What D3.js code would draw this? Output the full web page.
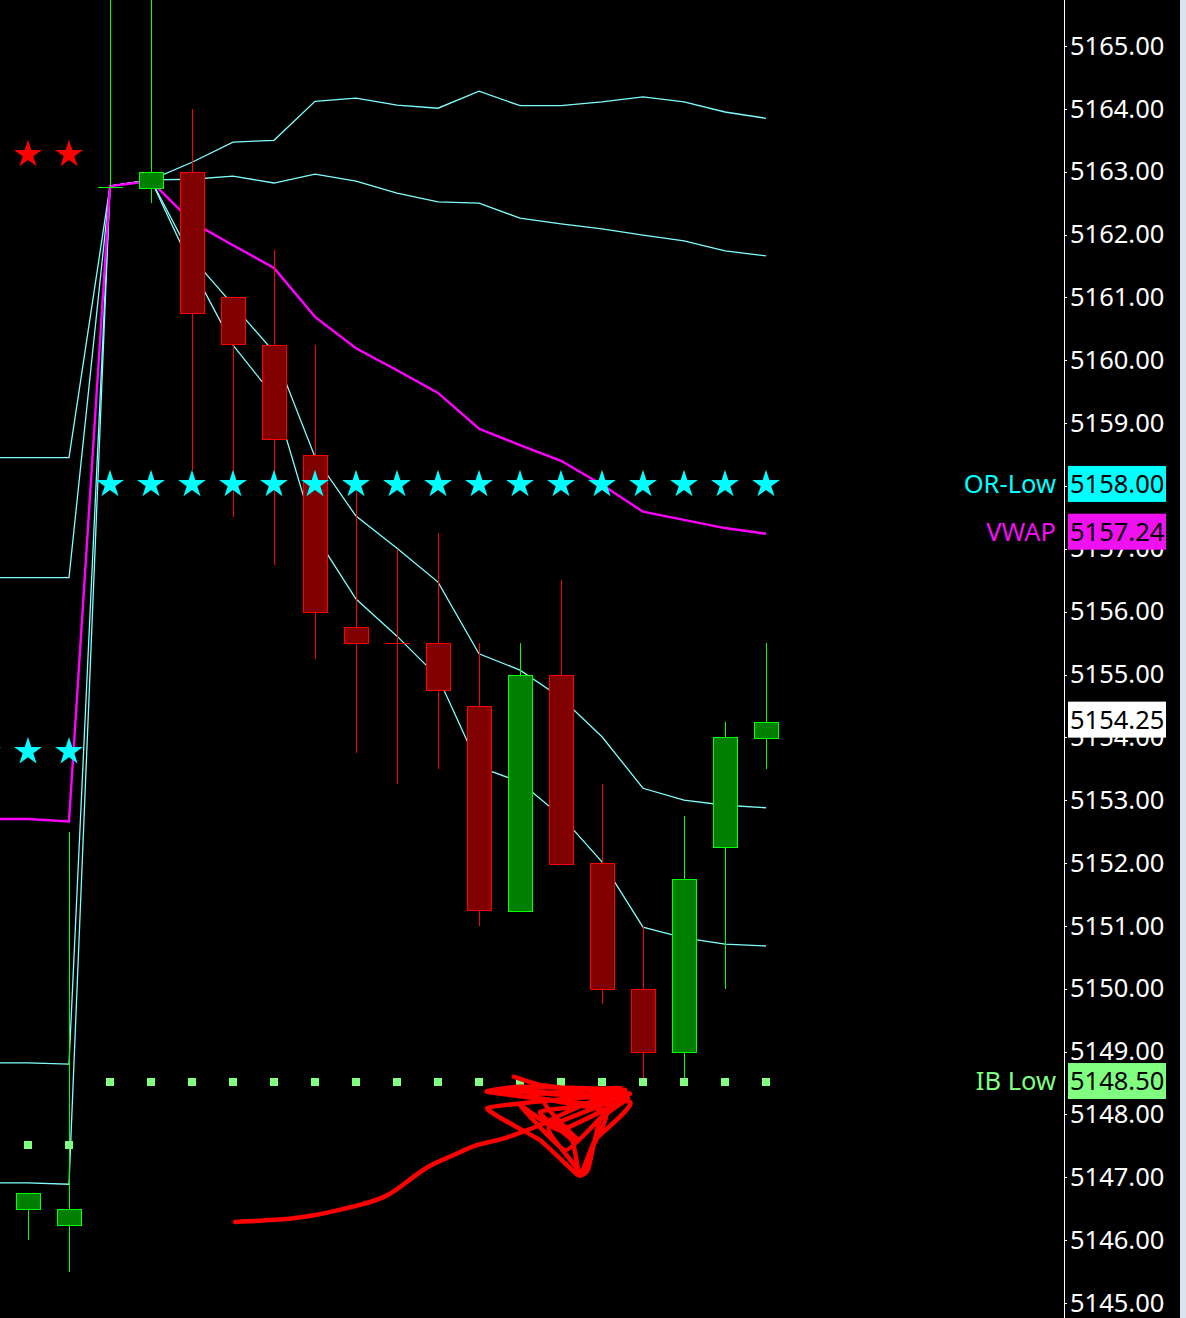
<!DOCTYPE html>
<html>
<head>
<meta charset="utf-8">
<script src="https://d3js.org/d3.v7.min.js"></script>
<style>
  html, body { margin: 0; padding: 0; background: #000; overflow: hidden; }
  text { font-family: "Noto Sans", "Open Sans", sans-serif; }
</style>
</head>
<body>
<div id="chart"></div>
<script>
// candles, bar 0 .. 18 (bars 0-1 are the prior session)
var opens  = [5146.50, 5146.25, 5162.75, 5162.75, 5163.00, 5161.00, 5160.25, 5158.50, 5155.75, 5155.50,
              5155.50, 5154.50, 5151.25, 5155.00, 5152.00, 5150.00, 5149.00, 5152.25, 5154.00];
var highs  = [5146.75, 5152.50, 5166.50, 5166.50, 5164.00, 5161.00, 5161.75, 5160.25, 5158.00, 5157.00,
              5157.25, 5155.50, 5155.50, 5156.50, 5153.25, 5151.00, 5152.75, 5154.25, 5155.50];
var lows   = [5146.00, 5145.50, 5162.75, 5162.50, 5158.25, 5157.50, 5156.75, 5155.25, 5153.75, 5153.25,
              5153.50, 5151.00, 5151.25, 5152.00, 5149.75, 5148.50, 5148.50, 5150.00, 5153.50];
var closes = [5146.75, 5146.50, 5162.75, 5163.00, 5160.75, 5160.25, 5158.75, 5156.00, 5155.50, 5155.50,
              5154.75, 5151.25, 5155.00, 5152.00, 5150.00, 5149.00, 5151.75, 5154.00, 5154.25];

// indicator lines, bar -1 .. 18
var lineBars = d3.range(-1, 19);
var upper1 = [5158.45, 5158.45, 5158.45, 5162.77, 5162.87, 5163.15, 5163.47, 5163.50, 5164.12, 5164.17,
              5164.06, 5164.01, 5164.28, 5164.05, 5164.05, 5164.11, 5164.19, 5164.11, 5163.95, 5163.85];
var upper2 = [5156.54, 5156.54, 5156.54, 5162.77, 5162.87, 5162.88, 5162.93, 5162.82, 5162.96, 5162.85,
              5162.66, 5162.52, 5162.50, 5162.26, 5162.17, 5162.09, 5161.99, 5161.90, 5161.74, 5161.66];
var vwap   = [5152.70, 5152.70, 5152.66, 5162.77, 5162.85, 5162.20, 5161.83, 5161.47, 5160.69, 5160.19,
              5159.84, 5159.48, 5158.91, 5158.65, 5158.40, 5158.02, 5157.59, 5157.46, 5157.33, 5157.24];
var lower1 = [5148.82, 5148.82, 5148.80, 5162.77, 5162.87, 5161.63, 5160.88, 5160.13, 5158.46, 5157.52,
              5157.01, 5156.47, 5155.33, 5155.07, 5154.63, 5154.01, 5153.19, 5153.00, 5152.92, 5152.88];
var lower2 = [5146.91, 5146.91, 5146.89, 5162.77, 5162.87, 5161.47, 5160.24, 5159.42, 5157.22, 5156.20,
              5155.61, 5154.96, 5153.53, 5153.29, 5152.75, 5152.02, 5150.98, 5150.81, 5150.71, 5150.68];

// markers: opening range stars and initial balance dots, bar -1 .. 18
var orHigh = [5163.25, 5163.25, 5163.25, null, null, null, null, null, null, null,
              null, null, null, null, null, null, null, null, null, null];
var orLow  = [5153.75, 5153.75, 5153.75, 5158.00, 5158.00, 5158.00, 5158.00, 5158.00, 5158.00, 5158.00,
              5158.00, 5158.00, 5158.00, 5158.00, 5158.00, 5158.00, 5158.00, 5158.00, 5158.00, 5158.00];
var ibLow  = [5147.50, 5147.50, 5147.50, 5148.50, 5148.50, 5148.50, 5148.50, 5148.50, 5148.50, 5148.50,
              5148.50, 5148.50, 5148.50, 5148.50, 5148.50, 5148.50, 5148.50, 5148.50, 5148.50, 5148.50];

// price axis
var priceTicks = d3.range(5145, 5166, 1);
var tagNames  = ["OR-Low", "VWAP", "IB Low", ""];
var tagValues = [5158.00, 5157.24, 5148.50, 5154.25];
var tagColors = ["#00ffff", "#f011f0", "#80ff80", "#ffffff"];

// hand drawn note, [bar, price]
var noteTail = [[5.05, 5146.29], [6.07, 5146.32], [6.80, 5146.37], [7.46, 5146.46], [8.12, 5146.56],
                [8.78, 5146.69], [9.24, 5146.93], [9.80, 5147.20], [10.27, 5147.32], [10.63, 5147.43],
                [10.98, 5147.53], [11.51, 5147.59], [12.02, 5147.71], [12.49, 5147.83], [12.85, 5147.94]];
var noteScribble = [[11.85, 5148.60], [12.49, 5148.47], [13.95, 5148.36], [14.68, 5148.33], [13.71, 5148.17],
                    [11.20, 5148.36], [12.00, 5148.44], [14.56, 5148.39], [13.34, 5148.26], [11.20, 5148.10],
                    [12.49, 5147.59], [13.41, 5147.04], [13.66, 5147.12], [13.95, 5147.91], [14.63, 5148.26],
                    [12.98, 5147.75], [12.00, 5148.15], [13.10, 5147.43], [13.95, 5147.94], [14.24, 5148.17],
                    [12.49, 5148.04], [13.27, 5147.59], [13.46, 5147.02], [13.83, 5147.59], [14.68, 5148.20],
                    [11.51, 5148.39], [14.32, 5148.26], [12.70, 5147.80], [13.20, 5147.30], [13.55, 5147.05],
                    [13.75, 5147.45], [14.10, 5148.05], [12.20, 5148.30], [14.45, 5148.42], [12.85, 5147.94],
                    [13.40, 5147.60], [12.60, 5148.20], [14.60, 5148.30]];

var width = 1186, height = 1318, axisX = 1064;

var svg = d3.select("#chart")
  .append("svg")
    .attr("width", width)
    .attr("height", height)
    .style("display", "block");

svg.append("rect")
  .attr("width", width).attr("height", height)
  .attr("fill", "#000");

var x = d3.scaleLinear().domain([0, 18]).range([28, 766]);
var y = d3.scaleLinear().domain([5145, 5165]).range([1303, 46]);

svg.append("clipPath").attr("id", "plot")
  .append("rect").attr("width", axisX).attr("height", height);

var plot = svg.append("g").attr("clip-path", "url(#plot)");

// bands and vwap
var line = d3.line()
  .defined(function(d) { return d[1] != null; })
  .x(function(d) { return x(d[0]); })
  .y(function(d) { return y(d[1]); });

[upper1, upper2, lower1, lower2].forEach(function(s) {
  plot.append("path")
    .datum(lineBars.map(function(b, i) { return [b, s[i]]; }))
    .attr("d", line)
    .attr("fill", "none")
    .attr("stroke", "#80ffff")
    .attr("stroke-width", 1.3);
});
plot.append("path")
  .datum(lineBars.map(function(b, i) { return [b, vwap[i]]; }))
  .attr("d", line)
  .attr("fill", "none")
  .attr("stroke", "#ff00ff")
  .attr("stroke-width", 2.4);

// candles
var candles = opens.map(function(o, i) {
  var up = closes[i] > o || (closes[i] === o && i > 0 && closes[i] > closes[i - 1]);
  return {i: i, o: o, h: highs[i], l: lows[i], c: closes[i], up: up};
});

var cg = plot.append("g").attr("shape-rendering", "crispEdges");

cg.selectAll("line.wick")
  .data(candles)
  .enter()
  .append("line")
    .attr("x1", function(d) { return Math.round(x(d.i)) + 0.5; })
    .attr("x2", function(d) { return Math.round(x(d.i)) + 0.5; })
    .attr("y1", function(d) { return y(d.h); })
    .attr("y2", function(d) { return y(d.l); })
    .attr("stroke", function(d) { return d.up ? "#00ff00" : "#ff0000"; });

cg.selectAll("rect.body")
  .data(candles.filter(function(d) { return d.o !== d.c; }))
  .enter()
  .append("rect")
    .attr("x", function(d) { return Math.round(x(d.i)) - 12 + 0.5; })
    .attr("y", function(d) { return Math.round(y(Math.max(d.o, d.c))) + 0.5; })
    .attr("width", 24)
    .attr("height", function(d) { return Math.round(Math.abs(y(d.o) - y(d.c))); })
    .attr("fill", function(d) { return d.up ? "#008000" : "#800000"; })
    .attr("stroke", function(d) { return d.up ? "#00ff00" : "#ff0000"; })
    .attr("stroke-width", 1.3);

cg.selectAll("line.doji")
  .data(candles.filter(function(d) { return d.o === d.c; }))
  .enter()
  .append("line")
    .attr("x1", function(d) { return x(d.i) - 12; })
    .attr("x2", function(d) { return x(d.i) + 13; })
    .attr("y1", function(d) { return Math.round(y(d.o)) + 0.5; })
    .attr("y2", function(d) { return Math.round(y(d.o)) + 0.5; })
    .attr("stroke", function(d) { return d.up ? "#00ff00" : "#ff0000"; });

// opening range stars
var star = d3.symbol().type(d3.symbolStar).size(240);
function stars(values, color) {
  plot.append("g").selectAll("path")
    .data(lineBars.map(function(b, i) { return [b, values[i]]; }).filter(function(d) { return d[1] != null; }))
    .enter()
    .append("path")
      .attr("d", star)
      .attr("transform", function(d) { return "translate(" + x(d[0]) + "," + (y(d[1]) - 1.5) + ")"; })
      .attr("fill", color);
}
stars(orHigh, "#ff0000");
stars(orLow, "#00ffff");

// initial balance dots
plot.append("g").attr("shape-rendering", "crispEdges").selectAll("rect")
  .data(lineBars.map(function(b, i) { return [b, ibLow[i]]; }))
  .enter()
  .append("rect")
    .attr("x", function(d) { return Math.round(x(d[0])) - 4; })
    .attr("y", function(d) { return Math.round(y(d[1])) - 5; })
    .attr("width", 8)
    .attr("height", 8)
    .attr("fill", "#80ff80");

// hand drawn note
plot.append("path")
  .datum(noteTail)
  .attr("d", d3.line().curve(d3.curveBasis).x(function(d) { return x(d[0]); }).y(function(d) { return y(d[1]); }))
  .attr("fill", "none")
  .attr("stroke", "#ff0000")
  .attr("stroke-width", 4.5)
  .attr("stroke-linecap", "round");
plot.append("path")
  .datum(noteScribble)
  .attr("d", d3.line().curve(d3.curveCardinal.tension(0.6)).x(function(d) { return x(d[0]); }).y(function(d) { return y(d[1]); }))
  .attr("fill", "none")
  .attr("stroke", "#ff0000")
  .attr("stroke-width", 4.5)
  .attr("stroke-linecap", "round")
  .attr("stroke-linejoin", "round");

// price axis
var axis = svg.append("g")
  .attr("transform", "translate(" + axisX + ",0)")
  .call(d3.axisRight(y)
    .tickValues(priceTicks)
    .tickSize(3)
    .tickPadding(3)
    .tickFormat(d3.format(".2f")));
axis.select(".domain").remove();
axis.selectAll(".tick line").attr("stroke", "#fff").attr("shape-rendering", "crispEdges");
axis.selectAll(".tick text")
  .attr("fill", "#fff")
  .attr("font-size", 25.5)
  .attr("font-family", "'Noto Sans', 'Open Sans', sans-serif");

svg.append("line")
  .attr("x1", axisX + 0.5).attr("x2", axisX + 0.5)
  .attr("y1", 0).attr("y2", height)
  .attr("stroke", "#fff")
  .attr("shape-rendering", "crispEdges");

// price tags
var tags = svg.append("g").selectAll("g")
  .data(tagValues.map(function(v, i) { return {v: v, name: tagNames[i], color: tagColors[i]}; }))
  .enter()
  .append("g")
    .attr("transform", function(d) { return "translate(0," + (y(d.v) - 2) + ")"; });

tags.append("rect")
  .attr("x", axisX + 4)
  .attr("y", -18)
  .attr("width", 98)
  .attr("height", 36)
  .attr("fill", function(d) { return d.color; });
tags.append("text")
  .attr("x", axisX + 6)
  .attr("dy", "0.36em")
  .attr("font-size", 25.5)
  .attr("fill", "#000")
  .text(function(d) { return d3.format(".2f")(d.v); });
tags.append("text")
  .attr("x", axisX - 8)
  .attr("dy", "0.36em")
  .attr("text-anchor", "end")
  .attr("font-size", 25.5)
  .attr("fill", function(d) { return d.color; })
  .text(function(d) { return d.name; });

// window edge
svg.append("rect")
  .attr("x", 1180).attr("y", 0)
  .attr("width", 6).attr("height", height)
  .attr("fill", "#dae3ee");
</script>
</body>
</html>
